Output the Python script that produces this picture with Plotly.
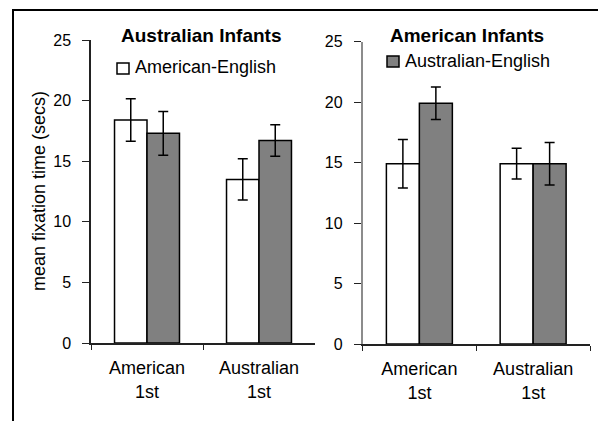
import plotly.graph_objects as go

# Test order conditions
conditions = ["American<br>1st", "Australian<br>1st"]

# Australian infants: mean fixation time (secs) and error half-widths
aus_american_english = [18.4, 13.5]
aus_american_english_err = [1.75, 1.7]
aus_australian_english = [17.3, 16.7]
aus_australian_english_err = [1.8, 1.3]

# American infants
us_american_english = [14.9, 14.9]
us_american_english_err = [2.0, 1.27]
us_australian_english = [19.9, 14.9]
us_australian_english_err = [1.35, 1.75]

y_ticks = [0, 5, 10, 15, 20, 25]

W, H = 598, 421
FONT = "Liberation Sans, Arial, sans-serif"
WHITE, GREY = "#ffffff", "#808080"


def px_x(p):
    return p / W


def px_y(p):
    return 1 - p / H


def bar(x, y, err, color, name, xa, ya):
    return go.Bar(
        x=x, y=y, name=name, xaxis=xa, yaxis=ya,
        marker=dict(color=color, line=dict(color="#000000", width=1.5)),
        error_y=dict(type="data", array=err, visible=True,
                     color="#000000", thickness=1.5, width=5),
        showlegend=False,
    )


fig = go.Figure()
fig.add_trace(bar(conditions, aus_american_english, aus_american_english_err,
                  WHITE, "American-English", "x", "y"))
fig.add_trace(bar(conditions, aus_australian_english, aus_australian_english_err,
                  GREY, "Australian-English", "x", "y"))
fig.add_trace(bar(conditions, us_american_english, us_american_english_err,
                  WHITE, "American-English", "x2", "y2"))
fig.add_trace(bar(conditions, us_australian_english, us_australian_english_err,
                  GREY, "Australian-English", "x2", "y2"))

xcommon = dict(
    type="category", showline=True, linecolor="#222222", linewidth=1.5,
    ticks="outside", tickson="boundaries", ticklen=5, tickcolor="#222222",
    tickfont=dict(family=FONT, size=18, color="#000000"),
    showgrid=False, zeroline=False, ticklabelstandoff=8, automargin=False,
)
ycommon = dict(
    range=[0, 25], tickvals=y_ticks, showline=True, linewidth=1.5,
    ticks="outside", ticklen=7, tickcolor="#222222",
    tickfont=dict(family=FONT, size=16, color="#000000"),
    showgrid=False, zeroline=False, ticklabelstandoff=8, automargin=False,
)

fig.update_layout(
    width=W, height=H,
    margin=dict(l=0, r=0, t=0, b=0, autoexpand=False),
    paper_bgcolor="#ffffff", plot_bgcolor="#ffffff",
    barmode="group", bargap=0.42, bargroupgap=0,
    xaxis=dict(domain=[px_x(91), px_x(315)], anchor="y", **xcommon),
    yaxis=dict(domain=[px_y(343), px_y(40)], anchor="x",
               linecolor="#222222", **ycommon),
    xaxis2=dict(domain=[px_x(362.5), px_x(590)], anchor="y2", **xcommon),
    yaxis2=dict(domain=[px_y(344), px_y(41.5)], anchor="x2",
                linecolor="#8c8c8c", **ycommon),
    font=dict(family=FONT, color="#000000"),
)


def note(text, x, y, size=18, anchor="center", angle=0):
    fig.add_annotation(text=text, x=px_x(x), y=px_y(y), xref="paper",
                       yref="paper", showarrow=False, xanchor=anchor,
                       yanchor="middle", textangle=angle,
                       font=dict(family=FONT, size=size, color="#000000"))


# Panel titles
note("<b>Australian Infants</b>", 201, 35, size=19)
note("<b>American Infants</b>", 467, 35, size=19)

# Legend keys: one swatch per panel
for (x0, y0, color, label) in [(117, 63, WHITE, "American-English"),
                               (387, 56, GREY, "Australian-English")]:
    fig.add_shape(type="rect", xref="paper", yref="paper",
                  x0=px_x(x0), x1=px_x(x0 + 12), y0=px_y(y0 + 11), y1=px_y(y0),
                  line=dict(color="#000000", width=1.5), fillcolor=color)
    note(label, x0 + 16, y0 + 4.5, anchor="left")

# Shared y-axis title
note("mean fixation time (secs)", 39, 191, angle=-90)

# Outer frame: left and top edges run off the page
fig.add_shape(type="line", xref="paper", yref="paper",
              x0=px_x(13), x1=px_x(13), y0=px_y(9), y1=px_y(430),
              line=dict(color="#000000", width=2))
fig.add_shape(type="line", xref="paper", yref="paper",
              x0=px_x(12), x1=px_x(610), y0=px_y(10), y1=px_y(10),
              line=dict(color="#000000", width=2))

fig.write_html("out.html")
